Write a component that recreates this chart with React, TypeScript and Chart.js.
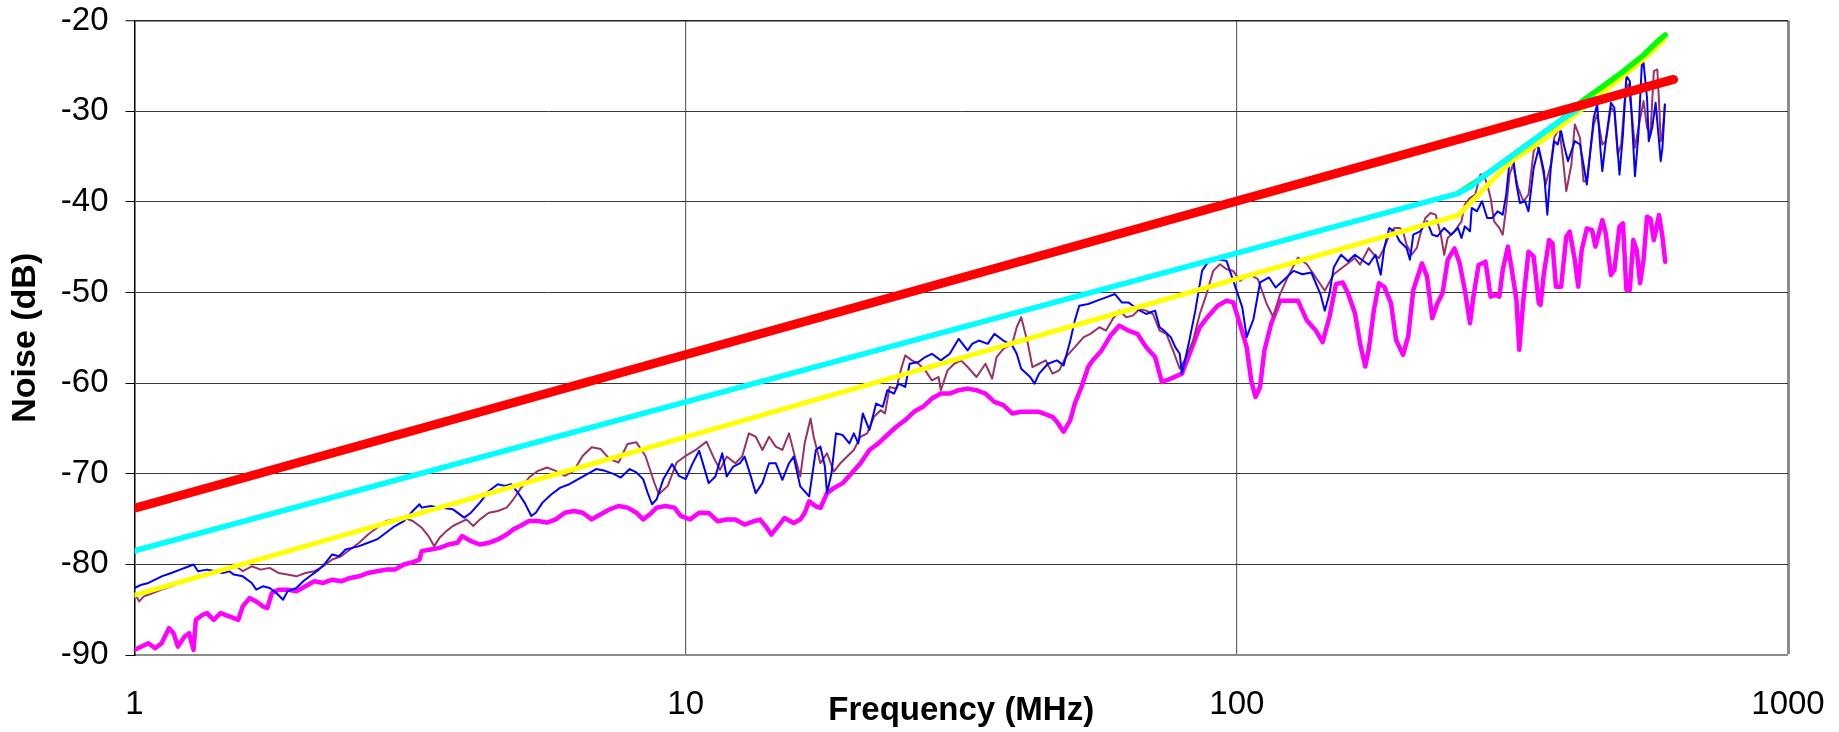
import React, { useEffect, useRef } from 'react';
import { Chart, registerables } from 'chart.js';

Chart.register(...registerables);

// ---- axis values ----
const X_TICKS = [1, 10, 100, 1000];
const X_MIN = 1;
const X_MAX = 1000;
const Y_MIN = -90;
const Y_MAX = -20;
const Y_STEP = 10;
const X_TITLE = 'Frequency (MHz)';
const Y_TITLE = 'Noise (dB)';

// ---- series: [frequency MHz, noise dB] ----
const RED: [number, number][] = [[1, -73.8], [620, -26.5]];

const CYAN: [number, number][] = [
  [1, -78.5], [252, -39.07], [259.2, -38.65], [266.8, -38.29], [274.6, -37.6], [308.1, -35.39],
  [345.6, -33.18], [387.6, -30.98], [428.5, -29.32], [444.1, -28.58],
];

const GREEN: [number, number][] = [
  [252, -39.07], [274.6, -37.6], [308.1, -35.39], [345.6, -33.18], [387.6, -30.98],
  [421.7, -28.96], [460.4, -27.3], [501.8, -25.65], [546.9, -23.81], [579.3, -22.34], [598.7, -21.6],
];

const YELLOW: [number, number][] = [
  [1, -83.4], [252, -41.5], [266.8, -39.99], [290.8, -37.6], [317, -35.39], [345.6, -33.92],
  [376.5, -32.27], [410.4, -30.43], [447.3, -28.58], [487.5, -26.75], [531.5, -24.91],
  [570.9, -23.25], [596.4, -22.07],
];

const BLUE: [number, number][] = [
  [1.0, -82.61], [1.03, -82.24], [1.06, -82.05], [1.09, -81.69], [1.12, -81.32], [1.166, -80.95],
  [1.21, -80.58], [1.256, -80.21], [1.28, -80.02], [1.304, -80.76], [1.354, -80.58], [1.405, -80.76],
  [1.445, -80.95], [1.486, -80.76], [1.514, -81.13], [1.572, -81.32], [1.632, -82.05], [1.663, -82.79],
  [1.71, -82.42], [1.759, -82.61], [1.809, -83.16], [1.86, -83.9], [1.895, -82.98], [1.967, -82.61],
  [2.023, -81.87], [2.08, -81.32], [2.16, -80.58], [2.221, -79.84], [2.284, -78.91], [2.349, -79.1],
  [2.416, -78.36], [2.485, -78.18], [2.556, -77.99], [2.653, -77.62], [2.754, -77.25], [2.859, -76.51],
  [2.968, -75.77], [3.081, -75.22], [3.198, -74.11], [3.289, -73.37], [3.32, -73.74], [3.446, -73.56],
  [3.577, -73.74], [3.783, -73.93], [3.965, -74.85], [4.078, -74.3], [4.234, -73.19], [4.395, -71.9],
  [4.562, -71.16], [4.691, -71.34], [4.824, -71.16], [4.961, -72.08], [5.102, -73.19], [5.248, -74.67],
  [5.347, -74.3], [5.499, -73.19], [5.708, -72.27], [5.923, -71.53], [6.152, -71.16], [6.385, -70.6],
  [6.627, -70.05], [6.88, -69.49], [7.14, -69.68], [7.416, -70.05], [7.626, -70.42], [7.915, -69.49],
  [8.14, -69.86], [8.372, -70.6], [8.53, -72.08], [8.69, -73.37], [8.86, -72.82], [9.11, -70.6],
  [9.45, -68.94], [9.72, -70.23], [10.0, -70.6], [10.28, -68.94], [10.58, -67.46],
  [11.01, -71.04], [11.32, -70.31], [11.65, -67.74], [11.87, -70.31], [12.2, -69.21], [12.55, -68.84],
  [12.79, -68.11], [13.02, -69.58], [13.4, -72.14], [13.78, -71.04], [14.17, -68.84], [14.57, -68.84],
  [14.98, -70.67], [15.4, -68.84], [15.7, -68.11], [16.14, -71.4], [16.75, -72.5], [17.23, -67.38],
  [17.56, -67.01], [17.89, -69.21], [18.05, -72.14], [18.39, -69.94], [18.74, -65.55], [19.27, -65.73],
  [19.82, -66.65], [20.19, -65.55], [20.57, -66.65], [20.96, -63.35], [21.55, -65.18], [22.16, -62.26],
  [22.79, -62.62], [23.22, -60.79], [23.88, -61.16], [24.33, -60.06], [25.02, -60.43], [25.49, -57.87],
  [26.45, -57.68], [27.2, -57.13], [27.97, -56.77], [29.04, -57.5], [30.14, -56.77], [31.29, -55.12],
  [32.48, -56.4], [33.09, -55.67], [34.03, -55.31], [35.32, -55.67], [36.32, -54.57], [37.7, -55.31],
  [39.13, -55.85], [39.87, -56.77], [40.62, -58.42], [42.17, -59.33], [42.96, -60.06], [43.77, -58.96],
  [45.43, -57.87], [47.16, -57.5], [48.5, -58.05], [49.87, -55.31], [50.82, -53.11], [51.77, -51.46],
  [53.74, -51.28], [55.79, -50.91], [57.91, -50.55], [60.11, -50.18], [61.82, -51.1], [63.56, -51.1],
  [65.98, -51.83], [68.49, -52.38], [71.08, -52.01], [72.42, -53.84], [73.79, -54.21], [75.9, -54.94],
  [77.32, -56.04], [78.78, -56.77], [79.51, -58.96], [81.77, -55.67], [84.08, -52.01], [86.48, -47.62],
  [88.92, -46.52], [92.3, -46.34], [95.8, -46.52], [99.45, -49.45], [102.3, -51.65], [104.2, -54.94],
  [107.2, -52.93], [110.2, -48.9], [114.4, -48.35], [117.6, -49.45], [122.1, -48.54], [126.7, -47.62],
  [131.5, -47.99], [136.5, -47.8], [141.8, -50.18], [144.4, -52.01], [147.2, -50.18], [149.9, -47.26],
  [152.8, -46.34], [154.6, -45.84], [159.1, -46.57], [163.8, -45.84], [168.5, -46.39], [173.5, -46.94],
  [178.5, -45.84], [182.4, -48.05], [185.1, -45.1], [189.1, -42.89], [193.2, -43.26], [197.4, -44.36],
  [203.2, -45.1], [206.1, -46.39], [209.0, -43.63], [215.1, -43.26], [221.4, -42.16], [226.2, -43.63],
  [231.2, -43.81], [237.8, -42.89], [244.8, -43.63], [251.9, -42.89], [255.6, -43.99], [259.2, -42.71],
  [264.9, -43.26], [266.8, -40.68], [272.7, -41.05], [278.5, -39.94], [284.6, -41.79], [290.8, -41.79],
  [297.2, -41.05], [303.7, -41.42], [308.1, -39.21], [312.5, -35.52], [317.0, -34.97], [321.6, -38.1],
  [326.3, -40.13], [333.4, -39.94], [338.2, -41.05], [345.6, -36.26], [353.1, -34.05], [360.7, -36.63],
  [365.9, -41.42], [371.2, -36.26], [376.5, -33.31], [382.0, -33.68], [387.6, -32.21], [393.2, -34.05],
  [398.9, -35.52], [404.6, -34.42], [410.4, -33.31], [419.4, -33.68], [425.5, -35.89], [431.5, -38.1],
  [437.9, -34.42], [444.1, -30.74], [450.6, -29.26], [457.1, -34.42], [460.4, -36.63], [467.1, -33.31],
  [477.2, -29.08], [484.1, -29.63], [491.0, -34.42], [494.6, -37.0], [501.8, -32.58], [509.1, -26.13],
  [516.4, -26.69], [523.9, -33.68], [527.7, -37.18], [535.3, -32.58], [543.0, -24.84], [546.9, -24.66],
  [554.9, -28.53], [558.9, -33.31], [567.0, -31.84], [575.2, -29.08], [583.4, -33.31], [587.6, -35.52],
  [591.8, -34.05], [597.9, -29.26],
];

const MAROON: [number, number][] = [
  [1.0, -83.16], [1.02, -84.09], [1.04, -83.53], [1.08, -83.16], [1.12, -82.79], [1.166, -82.42],
  [1.21, -82.05], [1.256, -81.69], [1.304, -81.32], [1.354, -80.95], [1.405, -80.76], [1.459, -80.58],
  [1.514, -80.02], [1.572, -80.76], [1.632, -80.21], [1.694, -80.58], [1.759, -80.39], [1.825, -80.95],
  [1.895, -81.13], [1.967, -81.32], [2.042, -80.95], [2.12, -80.76], [2.2, -80.21], [2.284, -79.47],
  [2.371, -79.1], [2.462, -78.36], [2.556, -77.62], [2.653, -76.7], [2.754, -75.96], [2.859, -75.22],
  [2.968, -75.04], [3.081, -74.85], [3.198, -75.22], [3.32, -75.96], [3.414, -76.88], [3.498, -77.99],
  [3.577, -77.07], [3.679, -76.33], [3.783, -75.77], [3.892, -75.4], [4.003, -75.04], [4.117, -75.77],
  [4.234, -75.04], [4.395, -74.3], [4.562, -74.11], [4.735, -73.74], [4.869, -72.82], [5.008, -71.71],
  [5.198, -70.42], [5.397, -69.68], [5.602, -69.31], [5.813, -69.68], [6.034, -70.23], [6.267, -69.68],
  [6.505, -68.02], [6.752, -67.09], [7.014, -67.28], [7.278, -68.39], [7.555, -68.76], [7.842, -66.72],
  [8.14, -66.54], [8.45, -68.02], [8.77, -70.97], [8.94, -72.27], [9.28, -71.34], [9.63, -68.76],
  [10.0, -68.02], [10.38, -67.46],
  [10.91, -66.46], [11.22, -68.11], [11.54, -69.58], [11.87, -68.11], [12.31, -68.84], [12.66, -68.11],
  [13.02, -65.55], [13.4, -65.92], [13.78, -67.38], [14.17, -65.92], [14.57, -67.01], [14.98, -67.38],
  [15.4, -65.55], [15.84, -68.48], [16.14, -70.31], [16.44, -66.65], [16.85, -63.9], [17.07, -65.92],
  [17.56, -68.84], [18.05, -67.74], [18.57, -69.76], [19.09, -68.84], [19.63, -68.11], [20.19, -67.38],
  [20.76, -65.92], [21.35, -65.55], [21.96, -63.72], [22.58, -62.99], [23.0, -63.35], [23.44, -60.43],
  [24.11, -60.61], [24.56, -58.6], [25.02, -56.95], [25.73, -57.5], [26.45, -57.87], [27.2, -58.6],
  [27.97, -59.7], [28.77, -59.33], [29.04, -60.79], [29.86, -58.6], [30.71, -57.87], [31.59, -57.5],
  [32.48, -58.23], [33.71, -59.33], [34.99, -57.87], [35.98, -59.51], [36.66, -57.13], [37.7, -56.22],
  [39.13, -55.67], [39.87, -53.84], [40.62, -52.74], [41.78, -55.67], [42.57, -58.23], [43.77, -57.87],
  [45.02, -57.5], [46.29, -58.96], [47.61, -58.6], [48.95, -57.13], [50.82, -56.04], [52.75, -54.94],
  [54.25, -54.57], [56.31, -53.84], [57.91, -54.21], [59.56, -52.93], [61.24, -52.01], [62.98, -52.74],
  [64.76, -52.56], [66.6, -51.83], [68.49, -52.01], [70.43, -52.38], [72.42, -54.21], [74.49, -54.57],
  [76.6, -56.4], [78.78, -58.42], [81.0, -57.13], [83.3, -55.31], [85.66, -52.38], [88.1, -50.18],
  [90.6, -47.62], [93.16, -46.89], [95.8, -47.44], [98.5, -47.62], [101.3, -48.72], [105.2, -47.99],
  [109.2, -48.54], [113.3, -51.28], [116.5, -52.74], [119.8, -50.18], [124.4, -47.99], [129.1, -46.16],
  [134.0, -46.89], [139.1, -48.35], [144.4, -49.82], [149.9, -47.99], [163.8, -46.21], [167.3, -46.94],
  [171.0, -45.84], [173.5, -45.1], [177.3, -45.84], [181.1, -46.21], [185.1, -45.1], [189.1, -43.63],
  [193.2, -42.89], [197.4, -42.89], [200.2, -43.26], [203.2, -44.73], [207.6, -45.84], [212.1, -45.1],
  [216.7, -42.89], [219.8, -41.79], [224.6, -41.23], [229.5, -41.42], [234.5, -43.63], [237.8, -45.84],
  [241.3, -43.99], [248.3, -43.26], [255.6, -42.16], [259.2, -40.31], [264.9, -39.58], [270.7, -39.21],
  [276.6, -37.0], [280.6, -37.0], [284.6, -38.1], [288.7, -39.58], [292.9, -42.16], [299.4, -42.89],
  [303.7, -43.63], [308.1, -40.68], [312.5, -37.0], [317.0, -35.89], [323.9, -38.47], [331.0, -39.94],
  [338.2, -39.21], [345.6, -34.42], [350.5, -33.68], [355.6, -35.16], [363.3, -38.1], [371.2, -35.89],
  [376.5, -32.95], [384.7, -31.84], [390.4, -35.16], [396.0, -38.84], [404.6, -35.89], [410.4, -31.47],
  [419.4, -32.95], [425.5, -37.73], [431.5, -37.73], [437.9, -34.42], [444.1, -31.47], [450.6, -30.37],
  [460.4, -33.68], [467.1, -33.31], [477.2, -29.63], [484.1, -30.0], [491.0, -34.79], [498.2, -33.68],
  [505.4, -28.89], [512.8, -27.05], [520.2, -30.0], [527.7, -34.05], [535.3, -31.84], [546.9, -28.89],
  [554.9, -31.84], [562.9, -32.58], [570.9, -25.58], [579.3, -25.4], [583.4, -28.89], [587.6, -33.31],
  [591.8, -32.58], [597.9, -29.26],
];

const MAGENTA: [number, number][] = [
  [1.0, -89.44], [1.03, -89.07], [1.06, -88.7], [1.09, -89.26], [1.12, -88.7], [1.155, -87.04],
  [1.177, -87.6], [1.199, -89.07], [1.233, -87.96], [1.256, -87.6], [1.28, -89.44], [1.292, -86.12],
  [1.329, -85.56], [1.354, -85.38], [1.392, -86.12], [1.432, -85.38], [1.486, -85.75], [1.543, -86.12],
  [1.572, -84.64], [1.617, -83.72], [1.663, -84.09], [1.71, -84.64], [1.742, -84.82], [1.775, -83.16],
  [1.825, -82.79], [1.895, -82.79], [1.967, -82.98], [2.042, -82.42], [2.12, -81.87], [2.2, -82.05],
  [2.284, -81.69], [2.371, -81.87], [2.462, -81.5], [2.556, -81.32], [2.653, -80.95], [2.754, -80.76],
  [2.859, -80.58], [2.968, -80.58], [3.081, -80.02], [3.198, -79.76], [3.289, -79.47], [3.32, -78.54],
  [3.446, -78.36], [3.577, -78.18], [3.713, -77.81], [3.855, -77.62], [3.928, -76.88], [4.078, -77.44],
  [4.234, -77.81], [4.395, -77.62], [4.562, -77.25], [4.735, -76.7], [4.869, -76.14], [5.008, -75.77],
  [5.198, -75.22], [5.397, -75.22], [5.602, -75.4], [5.813, -75.04], [6.034, -74.3], [6.267, -74.11],
  [6.505, -74.3], [6.752, -75.04], [7.014, -74.48], [7.278, -73.93], [7.555, -73.56], [7.842, -73.74],
  [8.14, -74.3], [8.372, -75.04], [8.61, -74.48], [8.86, -73.74], [9.19, -73.56], [9.54, -73.74],
  [9.81, -74.67], [10.19, -75.04], [10.58, -74.3],
  [11.01, -74.33], [11.43, -75.25], [11.87, -75.06], [12.31, -75.06], [12.79, -75.61], [13.27, -75.25],
  [13.65, -75.06], [14.04, -75.98], [14.3, -76.71], [14.7, -75.8], [15.12, -74.88], [15.7, -75.43],
  [16.14, -75.06], [16.44, -74.33], [16.75, -73.05], [17.23, -73.6], [17.56, -73.78], [18.05, -72.14],
  [18.57, -71.59], [19.27, -71.04], [20.0, -69.94], [20.76, -68.84], [21.55, -67.38], [22.37, -66.65],
  [23.22, -65.73], [24.11, -64.82], [25.02, -64.09], [25.96, -63.17], [26.95, -62.62], [27.97, -61.71],
  [29.04, -61.16], [30.14, -61.16], [31.29, -60.79], [32.48, -60.61], [33.71, -60.79], [34.99, -61.16],
  [36.32, -62.07], [37.7, -62.44], [39.13, -63.35], [40.62, -63.17], [43.77, -63.17], [46.29, -63.72],
  [47.16, -64.27], [48.5, -65.37], [49.87, -64.09], [50.82, -62.26], [52.26, -60.43], [53.74, -58.23],
  [54.75, -57.5], [56.84, -56.4], [59.0, -54.76], [61.24, -53.66], [63.56, -54.21], [65.98, -54.57],
  [68.49, -56.04], [71.08, -57.13], [73.11, -59.88], [75.9, -59.51], [79.51, -58.96], [82.53, -56.4],
  [85.66, -53.84], [88.92, -52.56], [92.3, -51.46], [95.8, -50.91], [98.5, -51.1], [101.3, -53.48],
  [104.2, -56.04], [106.2, -59.7], [108.1, -61.53], [110.2, -60.43], [112.2, -56.4], [115.4, -53.48],
  [119.8, -50.91], [124.4, -50.91], [129.1, -50.91], [134.0, -53.11], [139.1, -54.21], [143.1, -55.49],
  [147.2, -52.74], [151.3, -49.09], [155.6, -48.9], [159.1, -50.09], [163.8, -52.29], [167.3, -55.6],
  [171.0, -58.17], [173.5, -56.33], [177.3, -51.93], [181.1, -48.99], [185.1, -49.36], [190.4, -51.19],
  [194.5, -55.23], [200.2, -56.88], [204.6, -54.86], [209.0, -49.73], [216.7, -46.79], [221.4, -48.26],
  [226.2, -52.84], [231.2, -51.19], [236.2, -50.09], [241.3, -46.42], [248.3, -45.14], [253.7, -46.79],
  [259.2, -49.73], [264.9, -53.39], [268.7, -50.46], [274.6, -46.97], [282.6, -46.61], [288.7, -50.46],
  [295.1, -50.28], [299.4, -50.46], [303.7, -47.52], [310.3, -44.95], [314.8, -47.16], [321.6, -50.83],
  [325.4, -56.33], [331.0, -50.83], [338.2, -45.5], [345.6, -46.06], [353.1, -51.19], [355.6, -51.38],
  [360.7, -47.89], [368.6, -44.22], [373.9, -44.59], [379.3, -49.36], [387.6, -49.36], [396.0, -43.85],
  [401.7, -43.3], [410.4, -46.42], [416.4, -49.36], [422.4, -45.32], [431.5, -42.94], [441.0, -43.12],
  [447.3, -44.95], [460.4, -42.02], [467.1, -43.49], [477.2, -48.07], [484.1, -47.52], [494.6, -42.75],
  [501.8, -42.39], [509.1, -49.73], [516.4, -49.73], [523.9, -44.22], [531.5, -45.32], [539.1, -48.99],
  [546.9, -46.42], [554.9, -41.65], [562.9, -41.84], [570.9, -44.22], [583.4, -41.47], [591.8, -43.85],
  [598.7, -46.61],
];

const FONT_FAMILY = '"Liberation Sans", Arial, Helvetica, sans-serif';

export default function App() {
  const ref = useRef<HTMLCanvasElement | null>(null);

  useEffect(() => {
    document.body.style.margin = '0';
    document.body.style.overflow = 'hidden';
    const canvas = ref.current;
    if (!canvas) return;

    const mk = (label: string, pts: [number, number][], color: string, width: number) => ({
      label,
      data: pts.map(([x, y]) => ({ x, y })),
      borderColor: color,
      backgroundColor: color,
      borderWidth: width,
      showLine: true,
      pointRadius: 0,
      pointHoverRadius: 0,
      fill: false,
      tension: 0,
      borderCapStyle: 'round' as const,
      borderJoinStyle: 'round' as const,
    });

    const chart = new Chart(canvas, {
      type: 'scatter',
      data: {
        datasets: [
          mk('Red', RED, '#ff0000', 9),
          mk('Cyan', CYAN, '#00ffff', 5.5),
          mk('Green', GREEN, '#00ff00', 5.5),
          mk('Yellow', YELLOW, '#ffff00', 5),
          mk('Blue', BLUE, '#0000ff', 2),
          mk('Maroon', MAROON, '#993366', 2),
          mk('Magenta', MAGENTA, '#ff00ff', 4.5),
        ],
      },
      options: {
        animation: false,
        responsive: false,
        devicePixelRatio: 1,
        events: [],
        layout: { padding: { top: 20.5, right: 51, left: 0, bottom: 0 } },
        plugins: { legend: { display: false }, tooltip: { enabled: false }, title: { display: false } },
        scales: {
          x: {
            type: 'logarithmic',
            position: 'bottom',
            min: X_MIN,
            max: X_MAX,
            afterBuildTicks: (scale: any) => {
              scale.ticks = X_TICKS.map((v) => ({ value: v }));
            },
            afterFit: (scale: any) => {
              scale.height = 77;
              scale.paddingLeft = 0;
              scale.paddingRight = 0;
            },
            ticks: {
              autoSkip: false,
              maxRotation: 0,
              padding: 30,
              color: '#000',
              font: { family: FONT_FAMILY, size: 33 },
              callback: (v: any) => String(v),
            },
            grid: {
              drawTicks: false,
              color: (ctx: any) => {
                const v = ctx.tick && ctx.tick.value;
                if (v === 1) return 'rgba(0,0,0,0)';
                if (v === 1000) return '#8c8c8c';
                return '#666666';
              },
              lineWidth: (ctx: any) => (ctx.tick && ctx.tick.value === 1000 ? 3 : 1.2),
            },
            border: { display: true, color: '#8c8c8c', width: 2 },
            title: {
              display: true,
              text: X_TITLE,
              color: '#000',
              font: { family: FONT_FAMILY, size: 33, weight: 'bold' },
              padding: { top: 0, bottom: 1.5 },
            },
          },
          y: {
            type: 'linear',
            position: 'left',
            min: Y_MIN,
            max: Y_MAX,
            afterFit: (scale: any) => {
              scale.width = 134.5;
              scale.paddingTop = 0;
              scale.paddingBottom = 0;
            },
            ticks: {
              stepSize: Y_STEP,
              padding: 17,
              color: '#000',
              font: { family: FONT_FAMILY, size: 33 },
              callback: (v: any) => String(v),
            },
            grid: {
              drawTicks: true,
              tickLength: 9,
              tickColor: '#000',
              tickWidth: 1,
              color: (ctx: any) => {
                const v = ctx.tick && ctx.tick.value;
                if (v === Y_MIN) return 'rgba(0,0,0,0)';
                if (v === Y_MAX) return '#222222';
                return '#383838';
              },
              lineWidth: (ctx: any) => (ctx.tick && ctx.tick.value === Y_MAX ? 1.5 : 1),
            },
            border: { display: true, color: '#000', width: 1.5 },
            title: {
              display: true,
              text: Y_TITLE,
              color: '#000',
              font: { family: FONT_FAMILY, size: 34, weight: 'bold' },
              padding: { top: 5, bottom: 0 },
            },
          },
        },
      },
    } as any);

    return () => chart.destroy();
  }, []);

  return (
    <div style={{ width: 1839, height: 732, background: '#fff' }}>
      <canvas ref={ref} width={1839} height={732} style={{ display: 'block', width: 1839, height: 732 }} />
    </div>
  );
}
